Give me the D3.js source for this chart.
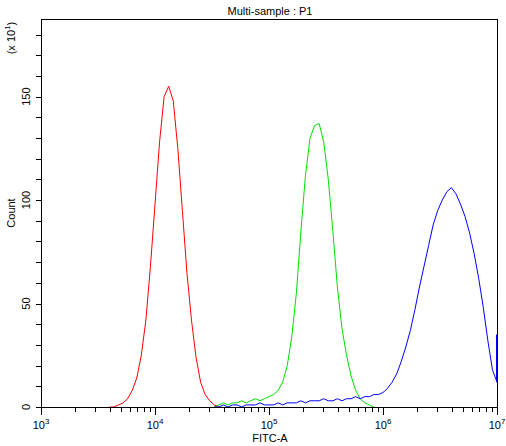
<!DOCTYPE html>
<html><head><meta charset="utf-8">
<script src="https://cdn.jsdelivr.net/npm/d3@7"></script>
<style>body{margin:0;background:#fff}text{font-family:"Liberation Sans",Arial,sans-serif;font-size:11px}</style>
</head><body><svg id="c" width="506" height="446"></svg>
<script>
const redStart=3.60, greenStart=4.52, blueStart=4.52, step=0.04;
const redVals=[0,0,1,2,4,8,14,25,42,68,98,128,150,155,148,125,95,65,42,24,12,6,3,1,0];
const greenVals=[0,1,2,1,2,2,3,2,3,4,3,4,5,6,8,12,20,34,55,85,112,130,136,137,128,110,85,58,38,25,15,8,4,2,1,0];
const blueVals=[0,0,1,0,1,1,0,1,1,1,2,1,1, 1,2,1,2,2,2,3,2,3,3,3,4, 3,3,4,3,4,4,5,4,5,5,6,6, 7,9,12,16,22,29,37,47,58,68,78,88, 95,100,104,106,103,98,92,84,74,62,48,32,18, 12];
const xTicks=[3,4,5,6,7];
const yTicks=[0,50,100,150];
const svg=d3.select("#c");
const L=41,R=497,T=19,B=407;
const x=d3.scaleLinear().domain([3,7]).range([L,R]);
const y=d3.scaleLinear().domain([0,187.5]).range([B,T]);
function series(start,vals){return vals.map((v,i)=>[start+i*step,v]);}
const line=d3.line().x(d=>x(d[0])).y(d=>y(d[1])).curve(d3.curveLinear);
[[redStart,redVals,"#ff0000"],[greenStart,greenVals,"#00e000"],[blueStart,blueVals,"#0000ff"]].forEach(([s,v,c])=>{
  svg.append("path").attr("d",line(series(s,v))).attr("fill","none").attr("stroke",c).attr("stroke-width",1);
});
svg.append("line").attr("x1",x(7)-0.5).attr("x2",x(7)-0.5).attr("y1",y(12)).attr("y2",y(35)).attr("stroke","#0000ff");
svg.append("rect").attr("x",L+0.5).attr("y",T+0.5).attr("width",R-L).attr("height",B-T).attr("fill","none").attr("stroke","#000");
const g=svg.append("g");
for(let v=0;v<=180;v+=10){g.append("line").attr("x1",L-5).attr("x2",L).attr("y1",Math.round(y(v))+0.5).attr("y2",Math.round(y(v))+0.5).attr("stroke","#000");}
yTicks.forEach(v=>g.append("text").attr("transform",`translate(30,${y(v)}) rotate(-90)`).attr("text-anchor","middle").text(v));
xTicks.forEach(p=>{
  g.append("line").attr("x1",Math.round(x(p))+0.5).attr("x2",Math.round(x(p))+0.5).attr("y1",B).attr("y2",B+8).attr("stroke","#000");
  const t=g.append("text").attr("x",x(p)).attr("y",429).attr("text-anchor","middle");
  t.append("tspan").text("10");t.append("tspan").attr("dy",-5).attr("font-size","8px").text(p);
  if(p<7)for(let k=2;k<10;k++){const xx=Math.round(x(p+Math.log10(k)))+0.5;g.append("line").attr("x1",xx).attr("x2",xx).attr("y1",B).attr("y2",B+5).attr("stroke","#000");}
});
svg.append("text").attr("x",270).attr("y",15).attr("text-anchor","middle").text("Multi-sample : P1");
svg.append("text").attr("x",270).attr("y",442).attr("text-anchor","middle").text("FITC-A");
svg.append("text").attr("transform","translate(15,213) rotate(-90)").attr("text-anchor","middle").text("Count");
const u=svg.append("text").attr("transform","translate(15,38) rotate(-90)").attr("text-anchor","middle");
u.append("tspan").text("(x 10");u.append("tspan").attr("dy",-5).attr("font-size","8px").text("1");u.append("tspan").attr("dy",5).text(")");
</script></body></html>
